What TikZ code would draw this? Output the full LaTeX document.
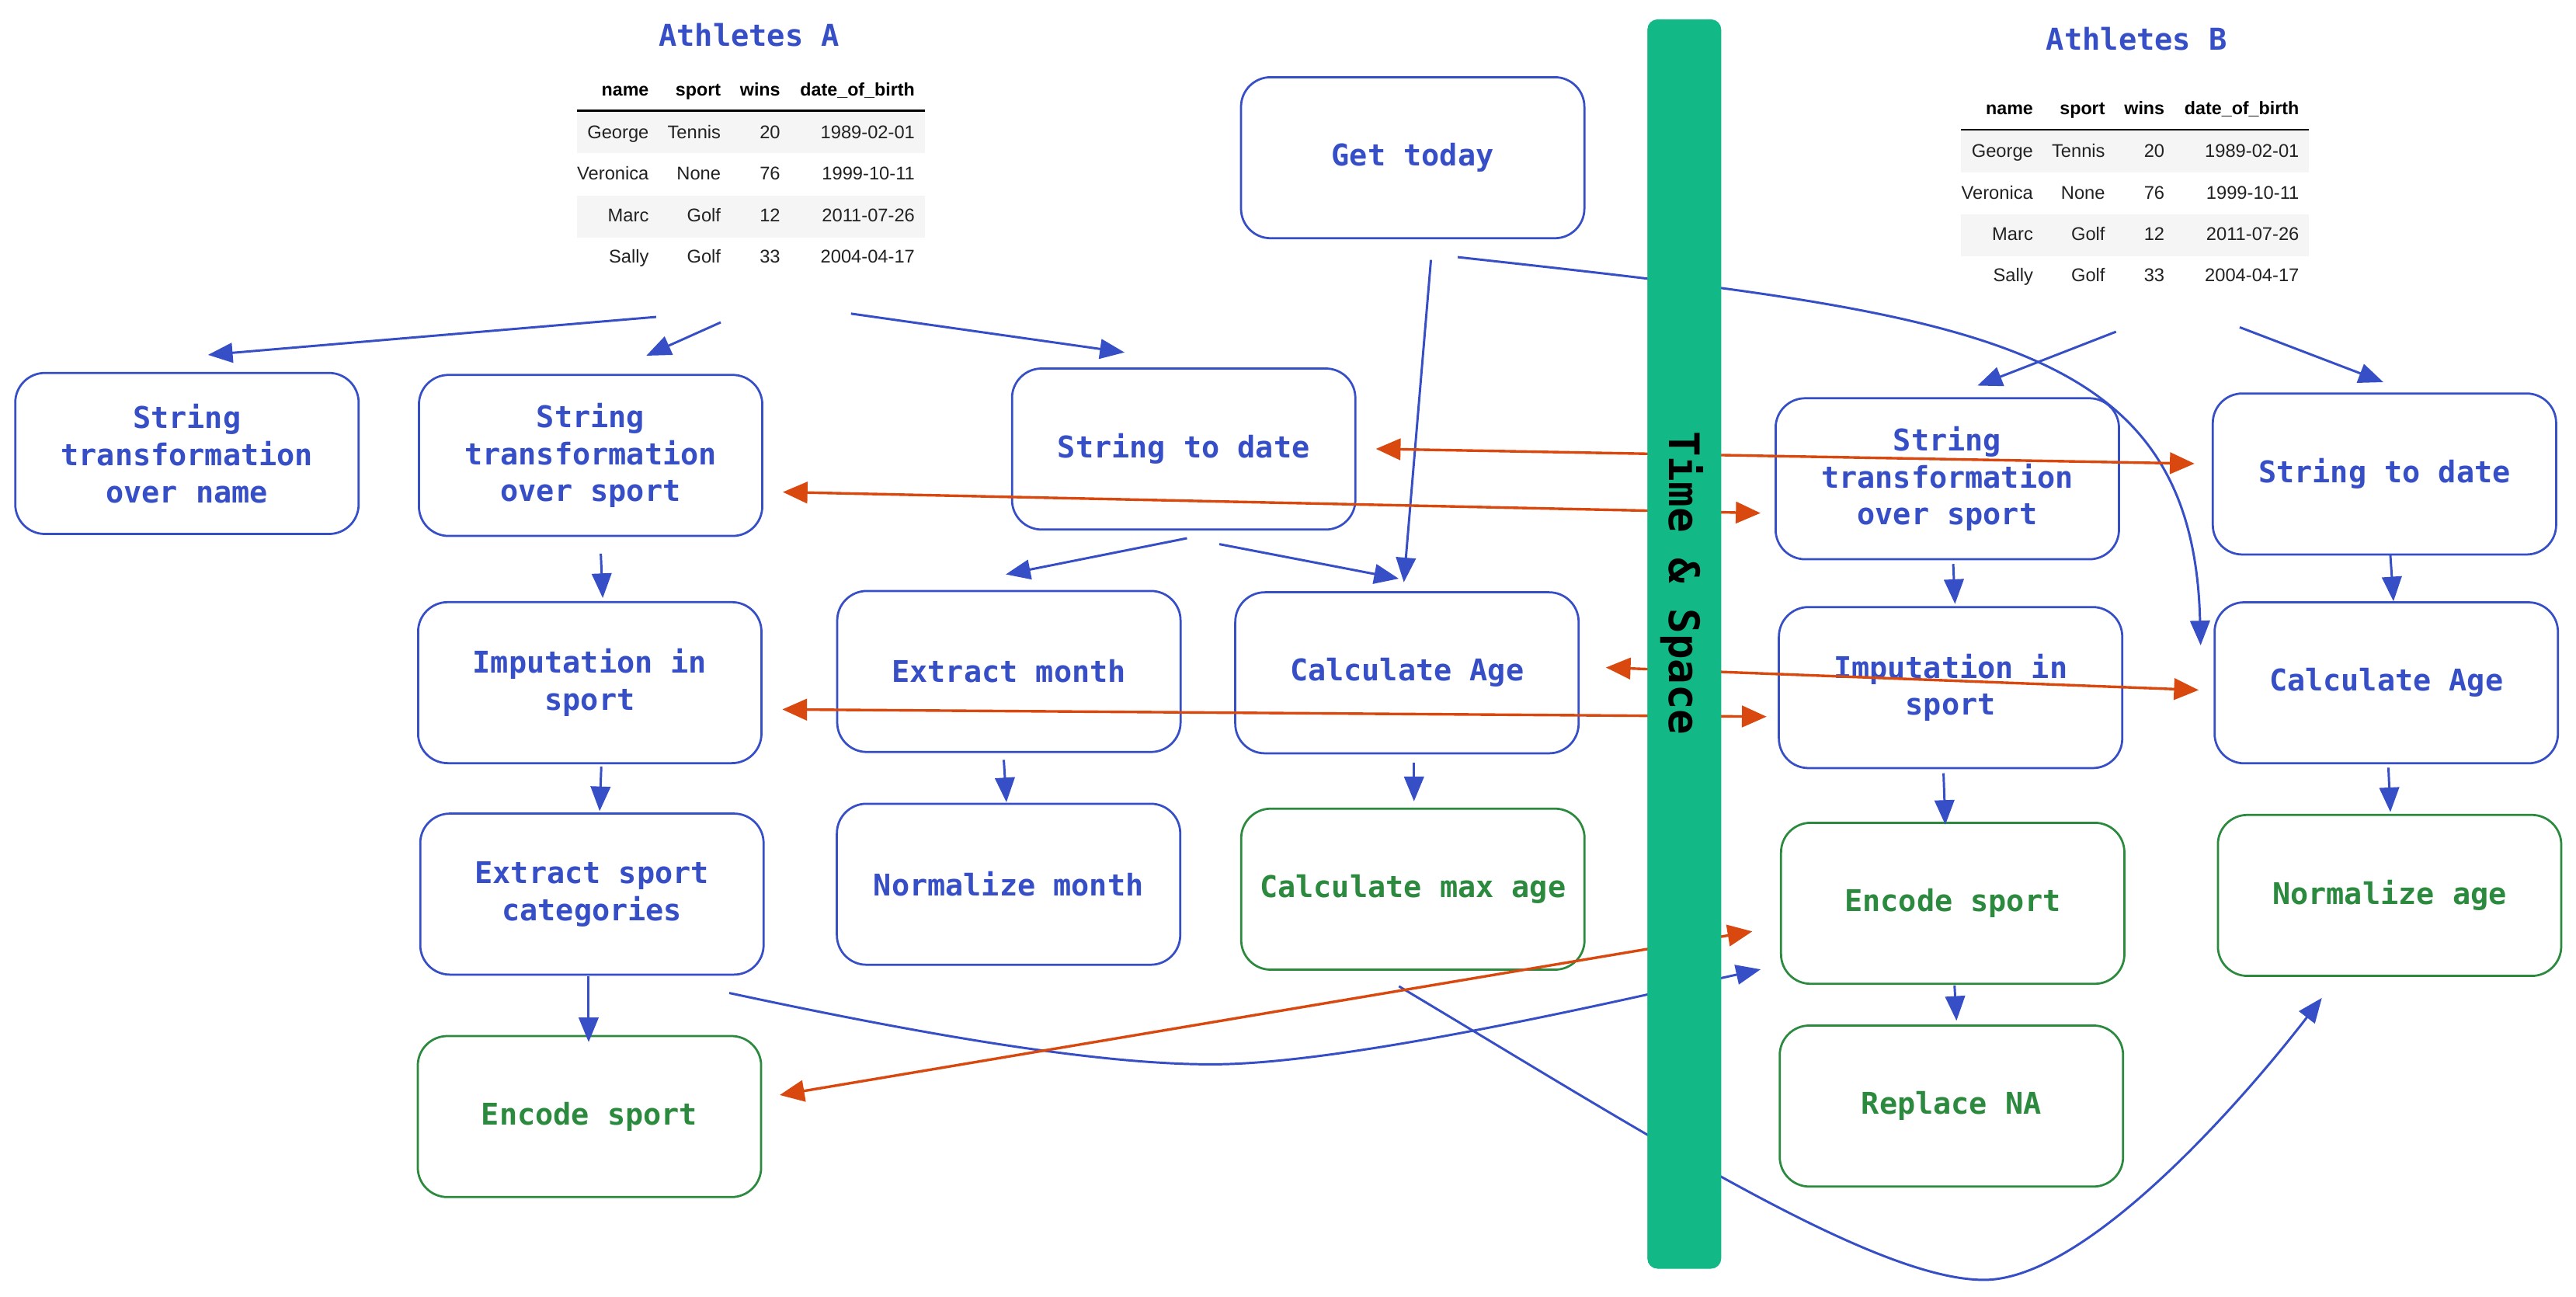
\documentclass[tikz,border=0pt]{standalone}
\usepackage{fontspec}
\setmainfont{Liberation Sans}
\newfontfamily\labelmono{DejaVu Sans Mono}
\usetikzlibrary{arrows.meta}
\definecolor{exblue}{HTML}{364FC7}
\definecolor{exgreen}{HTML}{2B8A3E}
\definecolor{exteal}{HTML}{12B886}
\definecolor{exorange}{HTML}{D9480F}
\definecolor{rowgray}{HTML}{F5F5F5}
\definecolor{celltext}{HTML}{222222}
\newcommand\athtable[3]{%
\begin{scope}[shift={(#2,#3)}]
 \fill[rowgray] (351,68) rectangle (563,93.3);
 \fill[rowgray] (351,119) rectangle (563,144.5);
 \draw[line width=1.1pt] (351,67.4) -- (563,67.4);
 \node[head] (#1h1) at (395.1,58.4) {name};
 \node[head] (#1h2) at (438.9,58.4) {sport};
 \node[head] (#1h3) at (475.1,58.4) {wins};
 \node[head] (#1h4) at (557.0,58.4) {date\_of\_birth};
 \node[cell] (#1a1) at (395.1,84.4) {George};
 \node[cell] (#1a2) at (438.9,84.4) {Tennis};
 \node[cell] (#1a3) at (475.1,84.4) {20};
 \node[cell] (#1a4) at (557.0,84.4) {1989-02-01};
 \node[cell] (#1b1) at (395.1,109.6) {Veronica};
 \node[cell] (#1b2) at (438.9,109.6) {None};
 \node[cell] (#1b3) at (475.1,109.6) {76};
 \node[cell] (#1b4) at (557.0,109.6) {1999-10-11};
 \node[cell] (#1c1) at (395.1,134.8) {Marc};
 \node[cell] (#1c2) at (438.9,134.8) {Golf};
 \node[cell] (#1c3) at (475.1,134.8) {12};
 \node[cell] (#1c4) at (557.0,134.8) {2011-07-26};
 \node[cell] (#1d1) at (395.1,160) {Sally};
 \node[cell] (#1d2) at (438.9,160) {Golf};
 \node[cell] (#1d3) at (475.1,160) {33};
 \node[cell] (#1d4) at (557.0,160) {2004-04-17};
\end{scope}}
\begin{document}
\begin{tikzpicture}[x=1pt,y=-1pt,
  procbox/.style={draw=exblue, text=exblue, line width=1.3pt, rounded corners=18pt,
    minimum width=209pt, minimum height=98pt, inner sep=0pt, align=center,
    font=\labelmono\bfseries\fontsize{18.2}{22.6}\selectfont},
  outbox/.style={procbox, draw=exgreen, text=exgreen},
  flow/.style={draw=exblue, line width=1.4pt, -{Triangle[length=15pt,width=12pt]}},
  link/.style={draw=exorange, line width=1.6pt,
    {Triangle[length=15pt,width=13pt]}-{Triangle[length=15pt,width=13pt]}},
  title/.style={text=exblue, inner sep=0pt, font=\labelmono\bfseries\fontsize{18.3}{22}\selectfont},
  cell/.style={anchor=base east, inner sep=0pt, text=celltext, font=\fontsize{11.2}{13}\selectfont},
  head/.style={cell, text=black, font=\bfseries\fontsize{11}{13}\selectfont}
]
\fill[white] (0,0) rectangle (1568,789);
\useasboundingbox (0,0) rectangle (1568,789);

% titles and tables
\node[title] (titA) at (456,21.3) {Athletes A};
\node[title] (titB) at (1300.6,23.6) {Athletes B};
\athtable{tA}{0}{0}
\athtable{tB}{842.6}{11.5}

% boxes, side A
\node[procbox] (strName) at (113.8,276) {String\\transformation\\over name};
\node[procbox] (strSportA) at (359.5,277.2) {String\\transformation\\over sport};
\node[procbox] (sdA) at (720.5,273.3) {String to date};
\node[procbox] (today) at (859.9,96) {Get today};
\node[procbox] (impA) at (359,415.5) {Imputation in\\sport};
\node[procbox] (extMonth) at (614.1,408.7) {Extract month};
\node[procbox] (ageA) at (856.4,409.5) {Calculate Age};
\node[procbox] (extSport) at (360.3,544.2) {Extract sport\\categories};
\node[procbox] (normMonth) at (613.9,538.2) {Normalize month};
\node[outbox] (maxAge) at (860,541.2) {Calculate max age};
\node[outbox] (encA) at (358.8,679.6) {Encode sport};

% boxes, side B
\node[procbox] (strSportB) at (1185.3,291.4) {String\\transformation\\over sport};
\node[procbox] (sdB) at (1451.4,288.5) {String to date};
\node[procbox] (impB) at (1187.3,418.5) {Imputation in\\sport};
\node[procbox] (ageB) at (1452.5,415.6) {Calculate Age};
\node[outbox] (encB) at (1188.6,549.8) {Encode sport};
\node[outbox] (normAge) at (1454.5,545) {Normalize age};
\node[outbox] (replNA) at (1187.8,673.2) {Replace NA};

% connector ends
\coordinate (tA1) at (399.4,192.9);  \coordinate (inName) at (126.6,216);
\coordinate (tA2) at (438.7,196.2);  \coordinate (inSportA) at (393.4,216.5);
\coordinate (tA3) at (518,190.9);    \coordinate (inSdA) at (684.5,214.5);
\coordinate (outSportA) at (365.7,337); \coordinate (inImpA) at (366.9,364);
\coordinate (outImpA) at (366,466.6); \coordinate (inExtSport) at (365,493.7);
\coordinate (outExtSport) at (358.3,594.1); \coordinate (inEncA) at (358.3,634.3);
\coordinate (outSdA1) at (722.5,327.6); \coordinate (inExtMonth) at (612.2,349.6);
\coordinate (outSdA2) at (742.2,331.2); \coordinate (inAgeA1) at (851.4,352.2);
\coordinate (outToday1) at (871,158.2); \coordinate (inAgeA2) at (854.5,354.4);
\coordinate (outExtMonth) at (611,462.5); \coordinate (inNormMonth) at (612.6,488.3);
\coordinate (outAgeA) at (860.7,464.4); \coordinate (inMaxAge) at (860.7,487.7);
\coordinate (outToday2) at (887.3,156.5); \coordinate (inAgeB1) at (1339.5,392.8);
\coordinate (tB1) at (1288,201.9);   \coordinate (inSportB) at (1203.7,234.7);
\coordinate (tB2) at (1363.3,199.2); \coordinate (inSdB) at (1450.7,232.6);
\coordinate (outSportB) at (1188.9,343.3); \coordinate (inImpB) at (1190,367.6);
\coordinate (outSdB) at (1455,338);  \coordinate (inAgeB2) at (1456.9,366);
\coordinate (outImpB) at (1183,470.6); \coordinate (inEncB1) at (1184.1,502);
\coordinate (outEncB) at (1189.7,599.8); \coordinate (inReplNA) at (1190.9,621.3);
\coordinate (outAgeB) at (1453.8,467.2); \coordinate (inNormAge1) at (1455,494.3);
\coordinate (outExtSport2) at (443.9,604.4); \coordinate (lowA) at (737.6,647.8); \coordinate (inEncB2) at (1071.7,590);
\coordinate (outMaxAge) at (851.5,600.3); \coordinate (lowB) at (1207.6,779); \coordinate (inNormAge2) at (1413.3,607.4);

% blue flows
\draw[flow] (tA1) -- (inName);
\draw[flow] (tA2) -- (inSportA);
\draw[flow] (tA3) -- (inSdA);
\draw[flow] (outSportA) -- (inImpA);
\draw[flow] (outImpA) -- (inExtSport);
\draw[flow] (outExtSport) -- (inEncA);
\draw[flow] (outSdA1) -- (inExtMonth);
\draw[flow] (outSdA2) -- (inAgeA1);
\draw[flow] (outToday1) -- (inAgeA2);
\draw[flow] (outExtMonth) -- (inNormMonth);
\draw[flow] (outAgeA) -- (inMaxAge);
\draw[flow] (outToday2) .. controls (1200,191) and (1335,205) .. (inAgeB1);
\draw[flow] (tB1) -- (inSportB);
\draw[flow] (tB2) -- (inSdB);
\draw[flow] (outSportB) -- (inImpB);
\draw[flow] (outSdB) -- (inAgeB2);
\draw[flow] (outImpB) -- (inEncB1);
\draw[flow] (outEncB) -- (inReplNA);
\draw[flow] (outAgeB) -- (inNormAge1);
\draw[flow] (outExtSport2) .. controls (540,625) and (660,648) .. (lowA)
  .. controls (820,648) and (992,607.6) .. (inEncB2);
\draw[flow] (outMaxAge) .. controls (1000,689) and (1140,779) .. (lowB)
  .. controls (1270,779) and (1365,670) .. (inNormAge2);

% orange links
\coordinate (lSdA) at (837.5,273.2);   \coordinate (lSdB) at (1335.8,282.2);
\coordinate (lSpA) at (476.5,299.5);   \coordinate (lSpB) at (1071.6,312.3);
\coordinate (lImA) at (476.2,431.8);   \coordinate (lImB) at (1075.3,436.2);
\coordinate (lAgA) at (977.5,406.3);   \coordinate (lAgB) at (1338.3,420);
\coordinate (lEnA) at (474.6,666.5);   \coordinate (lEnB) at (1066.6,566.9);
\draw[link] (lSdA) -- (lSdB);
\draw[link] (lSpA) -- (lSpB);
\draw[link] (lImA) -- (lImB);
\draw[link] (lAgA) -- (lAgB);
\draw[link] (lEnA) -- (lEnB);

% time & space bar
\node[fill=exteal, draw=exteal, rounded corners=6pt, minimum width=44.5pt, minimum height=760pt, inner sep=0pt] (bar) at (1025.2,392) {};
\node[rotate=-90, inner sep=0pt, text=black, font=\labelmono\bfseries\fontsize{25.6}{28}\selectfont] (barText) at (1023.9,355) {Time \& Space};
\end{tikzpicture}
\end{document}
